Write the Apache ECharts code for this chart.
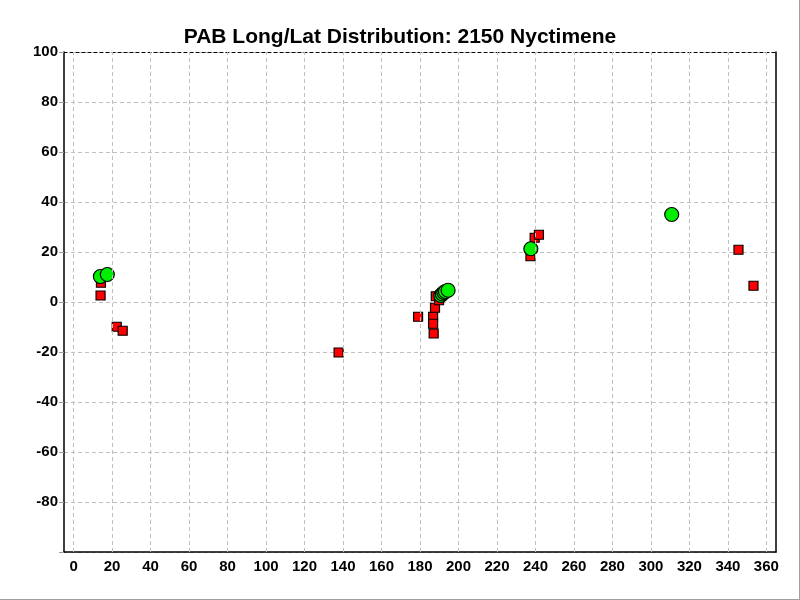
<!DOCTYPE html>
<html>
<head>
<meta charset="utf-8">
<script src="https://cdn.jsdelivr.net/npm/echarts@6/dist/echarts.min.js"></script>
<style>html,body{margin:0;padding:0;background:#fff;}#c{width:800px;height:600px;}</style>
</head>
<body>
<div id="c"></div>
<script>
const titleText = 'PAB Long/Lat Distribution: 2150 Nyctimene';
const xTicks = [0,20,40,60,80,100,120,140,160,180,200,220,240,260,280,300,320,340,360];
const yTicks = [-80,-60,-40,-20,0,20,40,60,80,100];
const redPoints = [
  [14.2, 7.7], [14.0, 2.6], [22.4, -9.9], [25.5, -11.5],
  [137.7, -20.2],
  [179.0, -5.9], [186.8, -5.9], [186.8, -8.7], [187.1, -12.6], [187.8, -2.3],
  [188.2, 2.3], [189.9, 0.7],
  [237.4, 18.3], [239.6, 25.7], [241.8, 26.9],
  [345.5, 20.9], [353.3, 6.5]
];
const greenPoints = [
  [13.9, 10.2], [17.5, 11.0],
  [190.8, 2.6], [191.6, 3.2], [192.4, 3.8], [193.2, 4.2], [194.6, 4.7],
  [237.6, 21.3],
  [310.8, 35.0]
];

const chart = echarts.init(document.getElementById('c'));
const font = 'Liberation Sans, Arial, sans-serif';
chart.setOption({
  animation: false,
  backgroundColor: '#fff',
  title: {
    text: titleText, left: 'center', top: 22,
    textStyle: {fontFamily: font, fontWeight: 'bold', fontSize: 21, color: '#000'}
  },
  grid: {left: 64, right: 24, top: 52, bottom: 48, containLabel: false},
  xAxis: [{
    type: 'value', min: -5, max: 365, position: 'bottom',
    axisLine: {show: true, onZero: false, lineStyle: {color: '#000', width: 1.5}},
    axisTick: {show: false, customValues: xTicks},
    axisLabel: {customValues: xTicks, color: '#000', fontFamily: font, fontWeight: 'bold', fontSize: 15, margin: 7},
    splitLine: {show: false}
  }, {
    type: 'value', min: -5, max: 365, position: 'top',
    axisLine: {show: true, onZero: false, lineStyle: {color: '#000', width: 1, type: [3, 3]}},
    axisTick: {show: false}, axisLabel: {show: false}, splitLine: {show: false}
  }],
  yAxis: [{
    type: 'value', min: -100, max: 100, interval: 20, position: 'left',
    axisLine: {show: true, onZero: false, lineStyle: {color: '#000', width: 1.5}},
    axisTick: {show: true, length: 5, lineStyle: {color: '#999'}},
    axisLabel: {color: '#000', fontFamily: font, fontWeight: 'bold', fontSize: 15, margin: 6,
      formatter: v => (v === -100 ? '' : String(v))},
    splitLine: {show: true, lineStyle: {color: '#c0c0c0', type: [4, 3], width: 1}}
  }, {
    type: 'value', min: -100, max: 100, interval: 20, position: 'right',
    axisLine: {show: true, onZero: false, lineStyle: {color: '#000', width: 1.5}},
    axisTick: {show: false}, axisLabel: {show: false}, splitLine: {show: false}
  }],
  series: [{
    type: 'scatter', xAxisIndex: 0, yAxisIndex: 0, data: [], silent: true,
    markLine: {
      silent: true, symbol: 'none', label: {show: false},
      lineStyle: {color: '#c0c0c0', type: [4, 3], width: 1},
      data: xTicks.map(v => ({xAxis: v}))
    }
  }, {
    type: 'scatter', xAxisIndex: 0, yAxisIndex: 0, data: redPoints,
    symbol: 'rect', symbolSize: 9,
    itemStyle: {color: '#ff0000', borderColor: '#000', borderWidth: 1.2, opacity: 1}
  }, {
    type: 'scatter', xAxisIndex: 0, yAxisIndex: 0, data: greenPoints,
    symbol: 'circle', symbolSize: 14,
    itemStyle: {color: '#00ee00', borderColor: '#000', borderWidth: 1.2, opacity: 1}
  }],
  graphic: [
    {type: 'line', shape: {x1: 799.5, y1: 0, x2: 799.5, y2: 600}, style: {stroke: '#a0a0a0', lineWidth: 1}, silent: true},
    {type: 'line', shape: {x1: 0, y1: 599.5, x2: 800, y2: 599.5}, style: {stroke: '#a0a0a0', lineWidth: 1}, silent: true}
  ]
});
</script>
</body>
</html>
